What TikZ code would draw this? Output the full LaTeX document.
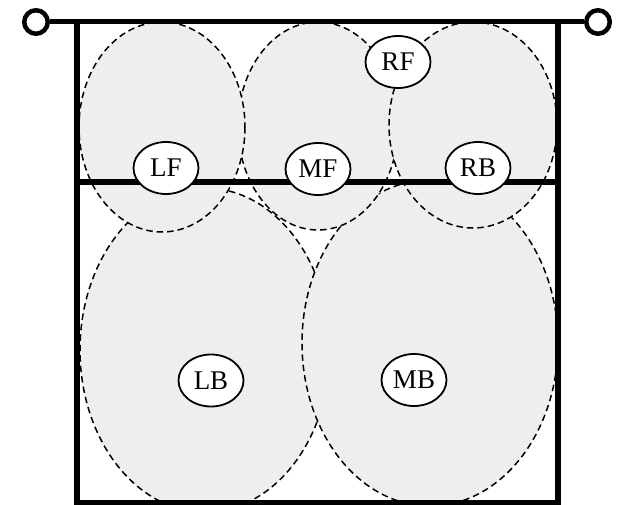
\documentclass[tikz,border=0pt]{standalone}
\usepackage{fontspec}
\setmainfont{Liberation Serif}
\usetikzlibrary{shapes.geometric}
\definecolor{zonefill}{RGB}{238,238,238}
\begin{document}
\begin{tikzpicture}[x=1pt,y=-1pt,
  zone/.style={draw=black, fill=zonefill, line width=1.5pt, dash pattern=on 6.5pt off 4pt},
  player/.style={ellipse, draw=black, fill=white, line width=1.8pt, minimum width=65pt, minimum height=52pt, inner sep=0pt, font=\fontsize{27}{31}\selectfont},
  post/.style={circle, draw=black, line width=4.5pt, minimum size=23.5pt, inner sep=0pt, fill=white},
  netline/.style={line width=5pt},
  court/.style={line width=5.5pt, line join=miter}]
\useasboundingbox (0,0) rectangle (623,505);
% zones
\draw[zone] (205,350) ellipse [x radius=125, y radius=162];
\draw[zone] (430,343) ellipse [x radius=128, y radius=163];
\draw[zone] (318,126) ellipse [x radius=80, y radius=104];
\draw[zone] (473,125) ellipse [x radius=84, y radius=103];
\draw[zone] (162,127) ellipse [x radius=83, y radius=105];
% court
\coordinate (tl) at (77,22);
\coordinate (tr) at (558,22);
\coordinate (bl) at (77,502.5);
\coordinate (br) at (558,502.5);
\coordinate (ml) at (77,182);
\coordinate (mr) at (558,182);
\node[post] (pl) at (36,22) {};
\node[post] (pr) at (598,22) {};
\draw[netline] (pl) -- (pr);
\draw[court] (tl) -- (bl) -- (br) -- (tr);
\draw[court] (ml) -- (mr);
% players
\node[player] (LF) at (166,168) {LF};
\node[player] (MF) at (318,169) {MF};
\node[player] (RB) at (478,168) {RB};
\node[player] (RF) at (398,62) {RF};
\node[player] (LB) at (211,380.5) {LB};
\node[player] (MB) at (414,380) {MB};
\end{tikzpicture}
\end{document}
